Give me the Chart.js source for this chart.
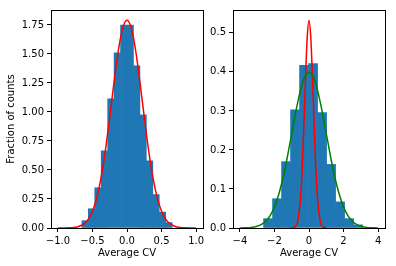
<!DOCTYPE html>
<html>
<head>
<meta charset="utf-8">
<script src="https://cdn.jsdelivr.net/npm/chart.js@4.4.1/dist/chart.umd.min.js"></script>
<style>
    html, body { margin: 0; padding: 0; background: #fff; }
    #wrap { position: relative; width: 396px; height: 266px; overflow: hidden; }
    #leftBox { position: absolute; left: 0; top: 0; width: 210px; height: 266px; }
    #rightBox { position: absolute; left: 210px; top: 0; width: 186px; height: 266px; }
</style>
</head>
<body>
<div id="wrap">
    <div id="leftBox"><canvas id="leftChart" width="210" height="266"></canvas></div>
    <div id="rightBox"><canvas id="rightChart" width="186" height="266"></canvas></div>
</div>
<script>
// left panel: histogram + fitted curve
var leftBinCenters = [-0.606, -0.513, -0.420, -0.327, -0.233, -0.140, -0.047, 0.047, 0.140, 0.233, 0.327, 0.420, 0.513, 0.607];
var leftBinHeights = [0.063, 0.166, 0.347, 0.665, 1.113, 1.510, 1.748, 1.750, 1.397, 0.975, 0.579, 0.288, 0.137, 0.047];
var leftCurveX = [-1.0, -0.95, -0.9, -0.85, -0.8, -0.75, -0.7, -0.65, -0.6, -0.55, -0.5, -0.45, -0.4, -0.35, -0.3, -0.25, -0.2, -0.15, -0.1, -0.05,
    0, 0.05, 0.1, 0.15, 0.2, 0.25, 0.3, 0.35, 0.4, 0.45, 0.5, 0.55, 0.6, 0.65, 0.7, 0.75, 0.8, 0.85, 0.9, 0.95, 1.0];
var leftCurveY = [0.0001, 0.0002, 0.0005, 0.0013, 0.003, 0.0063, 0.013, 0.026, 0.048, 0.086, 0.145, 0.234, 0.358, 0.522, 0.724, 0.955, 1.197, 1.428, 1.619, 1.746,
    1.79, 1.746, 1.619, 1.428, 1.197, 0.955, 0.724, 0.522, 0.358, 0.234, 0.145, 0.086, 0.048, 0.026, 0.013, 0.0063, 0.003, 0.0013, 0.0005, 0.0002, 0.0001];
var leftXTicks = [-1, -0.5, 0, 0.5, 1];
var leftYTicks = [0, 0.25, 0.5, 0.75, 1, 1.25, 1.5, 1.75];

// right panel: histogram + two curves
var rightBinCenters = [-2.370, -1.849, -1.328, -0.807, -0.286, 0.236, 0.757, 1.278, 1.799, 2.320, 2.841];
var rightBinHeights = [0.024, 0.075, 0.170, 0.303, 0.417, 0.421, 0.296, 0.163, 0.067, 0.024, 0.008];
var rightRedX = [-1.1, -1.0, -0.9, -0.8, -0.7, -0.6, -0.5, -0.4, -0.3, -0.2, -0.1, 0, 0.1, 0.2, 0.3, 0.4, 0.5, 0.6, 0.7, 0.8, 0.9, 1.0];
var rightRedY = [0.0, 0.0002, 0.0008, 0.0032, 0.0105, 0.030, 0.072, 0.148, 0.259, 0.386, 0.491, 0.532, 0.491, 0.386, 0.259, 0.148, 0.072, 0.030, 0.0105, 0.0032, 0.0008, 0.0002];
var rightGreenX = [-4, -3.75, -3.5, -3.25, -3, -2.75, -2.5, -2.25, -2, -1.75, -1.5, -1.25, -1, -0.75, -0.5, -0.25,
    0, 0.25, 0.5, 0.75, 1, 1.25, 1.5, 1.75, 2, 2.25, 2.5, 2.75, 3, 3.25, 3.5, 3.75, 4];
var rightGreenY = [0.0001, 0.0004, 0.0009, 0.0020, 0.0044, 0.0091, 0.0175, 0.0317, 0.0540, 0.0863, 0.1295, 0.1826, 0.2420, 0.3011, 0.3521, 0.3867,
    0.3989, 0.3867, 0.3521, 0.3011, 0.2420, 0.1826, 0.1295, 0.0863, 0.0540, 0.0317, 0.0175, 0.0091, 0.0044, 0.0020, 0.0009, 0.0004, 0.0001];
var rightXTicks = [-4, -2, 0, 2, 4];
var rightYTicks = [0, 0.1, 0.2, 0.3, 0.4, 0.5];

(function () {
    'use strict';

    var BLUE = '#1f77b4';
    var FONT = { family: '"DejaVu Sans", sans-serif', size: 10 };

    function pairs(xs, ys) {
        return xs.map(function (x, i) { return { x: x, y: ys[i] }; });
    }

    function fmt(decimals) {
        return function (v) { return Number(v).toFixed(decimals).replace('-', '\u2212'); };
    }

    function fixedTicks(list) {
        return function (scale) {
            scale.ticks = list.map(function (v) { return { value: v }; });
        };
    }

    // matplotlib-style box around the plot area
    var framePlugin = {
        id: 'frame',
        afterDraw: function (chart) {
            var a = chart.chartArea;
            var ctx = chart.ctx;
            ctx.save();
            ctx.strokeStyle = '#000';
            ctx.lineWidth = 1;
            ctx.strokeRect(a.left + 0.5, a.top + 0.5, a.right - a.left, a.bottom - a.top);
            ctx.restore();
        }
    };

    function barSet(centers, heights) {
        return {
            type: 'bar',
            data: pairs(centers, heights),
            backgroundColor: BLUE,
            borderWidth: 0,
            barPercentage: 1,
            categoryPercentage: 1,
            order: 2
        };
    }

    function lineSet(xs, ys, color, order) {
        return {
            type: 'line',
            data: pairs(xs, ys),
            borderColor: color,
            borderWidth: 1.5,
            pointRadius: 0,
            fill: false,
            cubicInterpolationMode: 'monotone',
            order: order
        };
    }

    function axisGrid() {
        return { display: true, drawOnChartArea: false, drawTicks: true, tickLength: 4, tickColor: '#000', offset: false };
    }

    function makeChart(id, opts) {
        return new Chart(document.getElementById(id), {
            type: 'bar',
            data: { datasets: opts.datasets },
            options: {
                responsive: false,
                animation: false,
                devicePixelRatio: 1,
                layout: { padding: { top: 10, right: opts.padRight, bottom: 0, left: 0 } },
                plugins: { legend: { display: false }, tooltip: { enabled: false } },
                scales: {
                    x: {
                        type: 'linear',
                        min: opts.xMin,
                        max: opts.xMax,
                        offset: false,
                        grid: axisGrid(),
                        border: { display: false },
                        afterBuildTicks: fixedTicks(opts.xTicks),
                        afterFit: function (s) { s.height = 38; },
                        ticks: { color: '#000', font: FONT, padding: 3, maxRotation: 0, autoSkip: false, callback: fmt(opts.xDec) },
                        title: { display: true, text: 'Average CV', color: '#000', font: FONT, padding: { top: 0, bottom: 7 } }
                    },
                    y: {
                        type: 'linear',
                        min: 0,
                        max: opts.yMax,
                        grid: axisGrid(),
                        border: { display: false },
                        afterBuildTicks: fixedTicks(opts.yTicks),
                        afterFit: function (s) { s.width = opts.yWidth; },
                        ticks: { color: '#000', font: FONT, padding: 3, autoSkip: false, callback: fmt(opts.yDec) },
                        title: opts.yTitle ? { display: true, text: opts.yTitle, color: '#000', font: FONT, padding: { top: 5, bottom: 0 } } : { display: false }
                    }
                }
            },
            plugins: [framePlugin]
        });
    }

    makeChart('leftChart', {
        datasets: [
            barSet(leftBinCenters, leftBinHeights),
            lineSet(leftCurveX, leftCurveY, '#ff0000', 1)
        ],
        xMin: -1.1, xMax: 1.1, xTicks: leftXTicks, xDec: 1,
        yMax: 1.879, yTicks: leftYTicks, yDec: 2,
        yWidth: 51, padRight: 7,
        yTitle: 'Fraction of counts'
    });

    makeChart('rightChart', {
        datasets: [
            barSet(rightBinCenters, rightBinHeights),
            lineSet(rightRedX, rightRedY, '#ff0000', 1),
            lineSet(rightGreenX, rightGreenY, '#008000', 0)
        ],
        xMin: -4.4, xMax: 4.4, xTicks: rightXTicks, xDec: 0,
        yMax: 0.5586, yTicks: rightYTicks, yDec: 1,
        yWidth: 23, padRight: 11,
        yTitle: null
    });
})();
</script>
</body>
</html>
